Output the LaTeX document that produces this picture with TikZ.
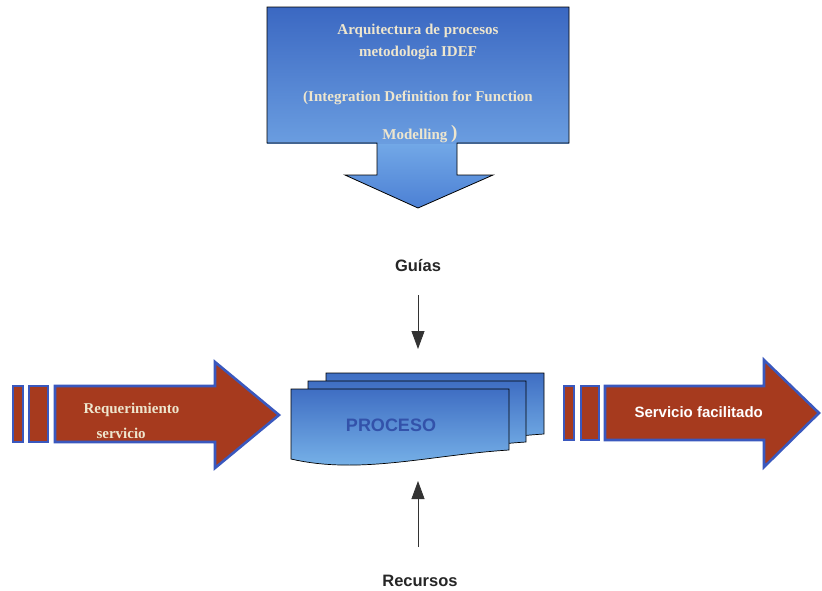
\documentclass[tikz,border=0pt]{standalone}
\usepackage{fontspec}
\setmainfont{Liberation Serif}
\setsansfont{Liberation Sans}
\usetikzlibrary{arrows.meta}

\definecolor{boxTop}{HTML}{3B68C2}
\definecolor{boxBot}{HTML}{6A9DE0}
\definecolor{stemTop}{HTML}{74AAE8}
\definecolor{stemBot}{HTML}{4C80D4}
\definecolor{docTop}{HTML}{3F6EC3}
\definecolor{docBot}{HTML}{7DB9EC}
\definecolor{brick}{HTML}{A63A1E}
\definecolor{rim}{HTML}{3A58BE}
\definecolor{cream}{HTML}{EEE6CE}
\definecolor{procText}{HTML}{3352AA}

\tikzset{
  redshape/.style={fill=brick, draw=rim, line width=2.6pt, line join=miter},
  docshape/.style={top color=docTop, bottom color=docBot, draw=black, line width=0.7pt},
  titletext/.style={font=\fontsize{15}{18}\selectfont\bfseries, text=cream},
  labeltext/.style={font=\sffamily\fontsize{16.5}{19}\selectfont\bfseries, text=black!85},
  conn/.style={draw=black!80, line width=0.8pt, -{Triangle[length=18pt,width=13pt]}}
}

\begin{document}
\begin{tikzpicture}[x=1pt, y=-1pt]
\useasboundingbox[fill=white] (0,0) rectangle (822,590);

% --- IDEF block with downward arrow ---
\shade[top color=stemTop, bottom color=stemBot]
  (377,140) -- (457,140) -- (457,175) -- (493,175) -- (418,208)
  -- (345,175) -- (377,175) -- cycle;
\shade[top color=boxTop, bottom color=boxBot] (267,7) rectangle (569,143);
\draw[black, line width=0.8pt]
  (377,143) -- (267,143) -- (267,7) -- (569,7) -- (569,143) -- (457,143)
  -- (457,175) -- (493,175) -- (418,208) -- (345,175) -- (377,175) -- cycle;

\node[titletext] (t1) at (418,31) {Arquitectura de procesos};
\node[titletext] (t2) at (418,53) {metodologia IDEF};
\node[titletext] (t3) at (418,98) {(Integration Definition for Function};
\node[titletext] (t4) at (420,134) {Modelling \raisebox{1pt}{\fontsize{19}{19}\selectfont )}};

% --- labels and small connectors ---
\node[labeltext] (guias) at (418,266) {Guías};
\node[labeltext] (recursos) at (420,581) {Recursos};
\coordinate (gStart) at (418,295);
\coordinate (gEnd) at (418,349);
\coordinate (rStart) at (418,547);
\coordinate (rEnd) at (418,481);
\draw[conn] (gStart) -- (gEnd);
\draw[conn] (rStart) -- (rEnd);

% --- input arrow ---
\draw[redshape] (13,386) rectangle (23,442);
\draw[redshape] (29,386) rectangle (48,442);
\draw[redshape] (55,386) -- (215,386) -- (215,362) -- (279,415)
  -- (215,468) -- (215,442) -- (55,442) -- cycle;
\node[titletext, anchor=west] (req1) at (80,410) {Requerimiento};
\node[titletext, anchor=west] (req2) at (93,433) {servicio};

% --- output arrow ---
\draw[redshape] (564,386) rectangle (574,440);
\draw[redshape] (581,386) rectangle (599,440);
\draw[redshape] (605,386) -- (764,386) -- (764,360) -- (819,413)
  -- (764,467) -- (764,440) -- (605,440) -- cycle;
\node[font=\sffamily\fontsize{15}{18}\selectfont\bfseries, text=white, anchor=west]
  (out) at (631,412) {Servicio facilitado};

% --- stacked process documents ---
\foreach \dx/\dy in {35/-16, 17/-8, 0/0}{
  \begin{scope}[shift={(\dx,\dy)}]
    \path[docshape] (291,389) -- (509,389) -- (509,450)
      .. controls (430,455) and (360,475) .. (291,459) -- cycle;
  \end{scope}
}
\node[font=\sffamily\fontsize{18}{20}\selectfont\bfseries, text=procText]
  (proc) at (391,425) {PROCESO};
\end{tikzpicture}
\end{document}
